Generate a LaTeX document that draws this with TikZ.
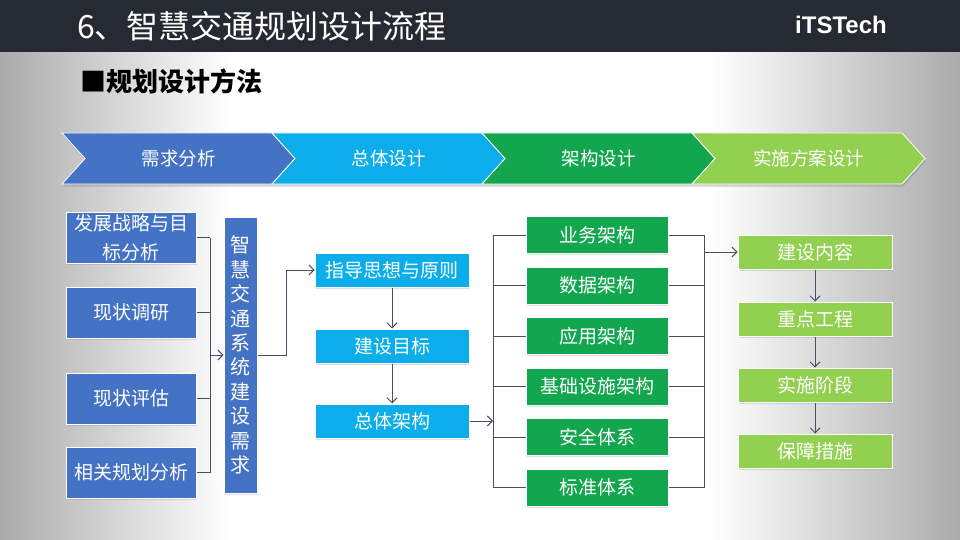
\documentclass[tikz,border=0pt]{standalone}
\usepackage{fontspec}
\setmainfont{Noto Sans CJK SC}
\newfontfamily\logofont{Liberation Sans}
\usetikzlibrary{arrows.meta, positioning, shadows}

\definecolor{barDark}{HTML}{262A33}
\definecolor{needBlue}{HTML}{4472C4}
\definecolor{skyBlue}{HTML}{0BAEEA}
\definecolor{archGreen}{HTML}{12A74E}
\definecolor{limeGreen}{HTML}{92D050}
\definecolor{lineGray}{HTML}{46505F}
\definecolor{bgSide}{HTML}{ABABAB}

\pgfdeclarehorizontalshading{slide bg}{100bp}{color(0bp)=(bgSide); color(25bp)=(bgSide); color(37bp)=(white); color(62bp)=(white); color(75bp)=(bgSide); color(100bp)=(bgSide)}

\begin{document}
\begin{tikzpicture}[
        x=1pt, y=-1pt,
        % 
        plain box/.style={
            draw=white,
            line width=1pt,
            text=white,
            align=center,
            inner sep=1pt,
            font=\fontsize{19}{23}\selectfont,
            drop shadow={opacity=0.25, shadow xshift=1pt, shadow yshift=-1.5pt},
        },
        need node/.style={plain box, fill=needBlue, minimum width=130pt, minimum height=51pt},
        sky node/.style={plain box, fill=skyBlue, minimum width=154pt, minimum height=34pt},
        arch node/.style={plain box, fill=archGreen, minimum width=142pt, minimum height=37pt},
        lime node/.style={plain box, fill=limeGreen, minimum width=154pt, minimum height=34pt},
        % 
        stage arrow/.style={
            draw=white,
            line width=0.8pt,
            drop shadow={opacity=0.35, shadow xshift=1pt, shadow yshift=-2.5pt},
        },
        stage text/.style={text=white, font=\fontsize{18.5}{22}\selectfont},
        normal edge/.style={->, >={Straight Barb[length=5pt,width=10pt]}, lineGray, line width=0.9pt},
        plain edge/.style={lineGray, line width=0.9pt}
        ]
        
        \useasboundingbox (0,0) rectangle (960,540);
        
        % Slide
        
        \shade[shading=slide bg] (0,52) rectangle (960,540);
        \fill[barDark] (0,0) rectangle (960,52);
        
        \node[anchor=west, inner sep=0, text=white, font=\fontsize{32}{32}\selectfont] (title) at (77,26) {6、智慧交通规划设计流程};
        \node[anchor=east, inner sep=0, text=white, font=\logofont\bfseries\fontsize{24}{24}\selectfont] (logo) at (887,25) {iTSTech};
        \node[anchor=west, inner sep=0, font=\bfseries\fontsize{26}{26}\selectfont] (method) at (80,81) {■规划设计方法};
        
        % Stages
        
        \foreach \i/\col/\txt in {0/needBlue/需求分析, 1/skyBlue/总体设计, 2/archGreen/架构设计, 3/limeGreen/实施方案设计}{
            \filldraw[stage arrow, fill=\col] ({62+210*\i},133) -- ++(210,0) -- ++(23,25.5) -- ++(-23,25.5) -- ++(-210,0) -- ++(23,-25.5) -- cycle;
            \node[stage text] (stage\i) at ({178.5+210*\i},158.5) {\txt};
        }
        
        % Vertices
        
        \node[need node, font=\fontsize{19}{29}\selectfont] (b1) at (131,237.5) {发展战略与目\\标分析};
        \node[need node] (b2) at (131,312.5) {现状调研};
        \node[need node] (b3) at (131,398.5) {现状评估};
        \node[need node] (b4) at (131,472.5) {相关规划分析};
        \node[need node, minimum width=33pt, minimum height=276pt, font=\fontsize{20}{24.4}\selectfont] (need) at (240.5,355)
            {智\\慧\\交\\通\\系\\统\\建\\设\\需\\求};
        
        \node[sky node] (m1) at (392,270) {指导思想与原则};
        \node[sky node, below=41pt of m1] (m2) {建设目标};
        \node[sky node, below=40pt of m2] (m3) {总体架构};
        
        \node[arch node] (g1) at (597,235) {业务架构};
        \node[arch node, below=12.5pt of g1] (g2) {数据架构};
        \node[arch node, below=12.5pt of g2] (g3) {应用架构};
        \node[arch node, below=12.5pt of g3] (g4) {基础设施架构};
        \node[arch node, below=12.5pt of g4] (g5) {安全体系};
        \node[arch node, below=12.5pt of g5] (g6) {标准体系};
        
        \node[lime node] (l1) at (815,252) {建设内容};
        \node[lime node, below=32pt of l1] (l2) {重点工程};
        \node[lime node, below=31pt of l2] (l3) {实施阶段};
        \node[lime node, below=31pt of l3] (l4) {保障措施};
        
        % Edges
        
        \coordinate (busA) at (210,0);
        \coordinate (busB) at (493,0);
        \coordinate (busC) at (704,0);
        
        \foreach \b in {b1,b2,b3,b4}
            \draw[plain edge] (\b.east) -- (\b.east -| busA);
        \draw[plain edge] (b1.east -| busA) -- (b4.east -| busA);
        \draw[normal edge] (need.west -| busA) -- (need.west);
        %
        \draw[normal edge] (need.east) -- ++(29,0) |- (m1.west);
        \draw[normal edge] (m1) -- (m2);
        \draw[normal edge] (m2) -- (m3);
        \draw[normal edge] (m3.east) -- (m3.east -| busB);
        %
        \foreach \g in {g1,g2,g3,g4,g5,g6}{
            \draw[plain edge] (\g.west -| busB) -- (\g.west);
            \draw[plain edge] (\g.east) -- (\g.east -| busC);
        }
        \draw[plain edge] (g1.west -| busB) -- (g6.west -| busB);
        \draw[plain edge] (g1.east -| busC) -- (g6.east -| busC);
        \draw[normal edge] (l1.west -| busC) -- (l1.west);
        %
        \draw[normal edge] (l1) -- (l2);
        \draw[normal edge] (l2) -- (l3);
        \draw[normal edge] (l3) -- (l4);
        % 
    \end{tikzpicture}
\end{document}
